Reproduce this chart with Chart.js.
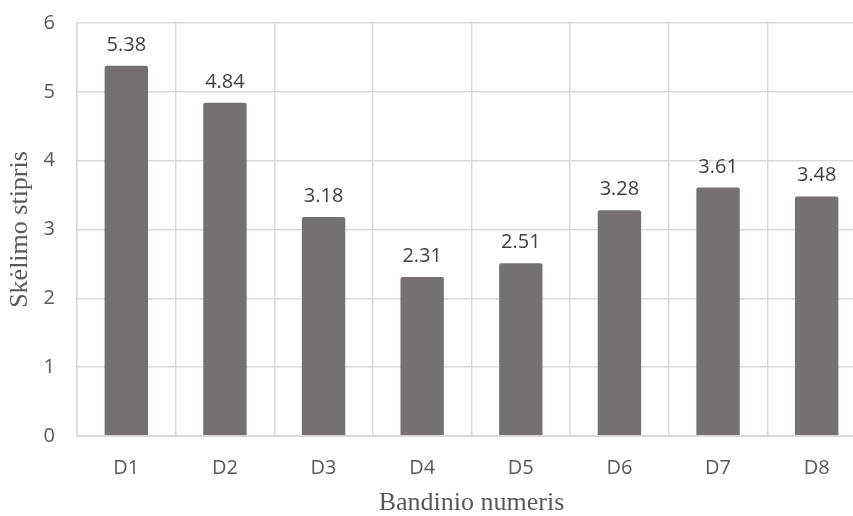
<!DOCTYPE html>
<html>
<head>
<meta charset="utf-8">
<title>Skėlimo stipris</title>
<script src="https://cdn.jsdelivr.net/npm/chart.js@4/dist/chart.umd.min.js"></script>
<style>
  html, body { margin: 0; padding: 0; overflow: hidden; background: #fff; }
</style>
</head>
<body>
<canvas id="chart" width="880" height="516"></canvas>
<script>
// sample names and their splitting strength
const samples = ["D1", "D2", "D3", "D4", "D5", "D6", "D7", "D8"];
const strength = [5.38, 4.84, 3.18, 2.31, 2.51, 3.28, 3.61, 3.48];
const yTicks = [0, 1, 2, 3, 4, 5, 6];

const gridColor = "#d9d9d9";
const textColor = "#595959";

// writes the value above each bar
const valueLabels = {
  id: "valueLabels",
  afterDatasetsDraw(chart) {
    const ctx = chart.ctx;
    const meta = chart.getDatasetMeta(0);
    ctx.save();
    ctx.font = "20px 'Open Sans'";
    ctx.fillStyle = "#404040";
    ctx.textAlign = "center";
    ctx.textBaseline = "alphabetic";
    meta.data.forEach((bar, i) => {
      ctx.fillText(strength[i].toFixed(2), bar.x, bar.y - 15);
    });
    ctx.restore();
  }
};

new Chart(document.getElementById("chart"), {
  type: "bar",
  data: {
    labels: samples,
    datasets: [{
      data: strength,
      backgroundColor: "#767171",
      borderRadius: 2,
      borderSkipped: "bottom",
      barPercentage: 0.44,
      categoryPercentage: 1
    }]
  },
  options: {
    responsive: false,
    animation: false,
    layout: { padding: { left: 0, top: 23, right: 14, bottom: 0 } },
    plugins: {
      legend: { display: false },
      tooltip: { enabled: false }
    },
    scales: {
      x: {
        grid: { color: gridColor, lineWidth: 1.5, drawTicks: false, tickLength: 0, offset: true },
        border: { color: gridColor, width: 2, z: 1 },
        ticks: {
          color: textColor,
          font: { family: "'Open Sans'", size: 20 },
          padding: 20
        },
        title: {
          display: true,
          text: "Bandinio numeris",
          color: textColor,
          font: { family: "'Liberation Serif'", size: 26, lineHeight: 1 },
          padding: { top: 0, bottom: 0 }
        },
        afterFit(scale) { scale.height = 80; }
      },
      y: {
        min: 0,
        max: 6,
        afterBuildTicks(scale) { scale.ticks = yTicks.map(v => ({ value: v })); },
        grid: { color: gridColor, lineWidth: 1.5, drawTicks: false, tickLength: 0 },
        border: { color: gridColor, width: 1.5 },
        ticks: {
          color: textColor,
          font: { family: "'Open Sans'", size: 20 },
          padding: 22
        },
        title: {
          display: true,
          text: "Skėlimo stipris",
          color: textColor,
          font: { family: "'Liberation Serif'", size: 26, lineHeight: 1 },
          padding: { top: 7, bottom: 0 }
        },
        afterFit(scale) {
          scale.width = 77;
          scale.paddingTop = 0;
          scale.paddingBottom = 0;
        }
      }
    }
  },
  plugins: [valueLabels]
});
</script>
</body>
</html>
